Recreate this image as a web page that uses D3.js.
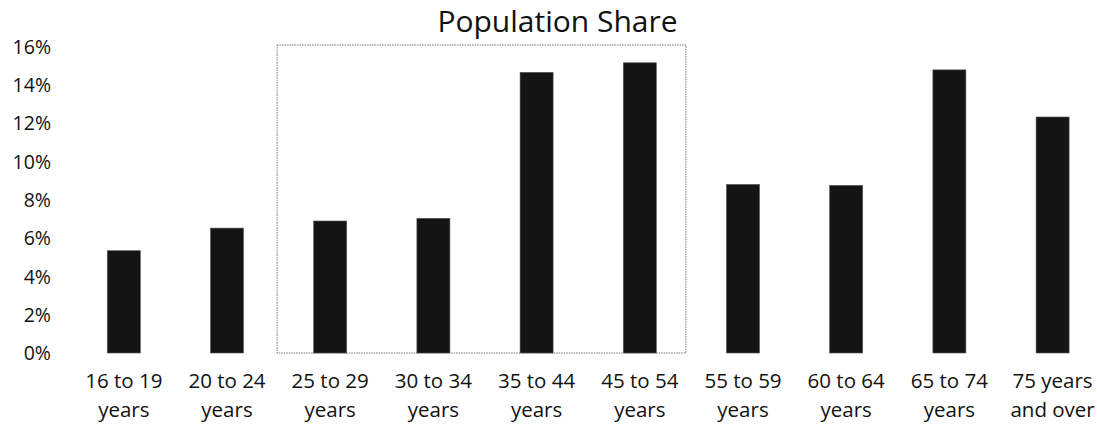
<!DOCTYPE html>
<html>
<head>
<meta charset="utf-8">
<script src="https://cdn.jsdelivr.net/npm/d3@7/dist/d3.min.js"></script>
<style>
  html, body { margin: 0; padding: 0; background: #fff; }
  svg { display: block; }
  text { font-family: "Open Sans", sans-serif; fill: #111; }
</style>
</head>
<body>
<svg id="chart" width="1097" height="425"></svg>
<script>
const title = "Population Share";
const categories = [
  ["16 to 19", "years"],
  ["20 to 24", "years"],
  ["25 to 29", "years"],
  ["30 to 34", "years"],
  ["35 to 44", "years"],
  ["45 to 54", "years"],
  ["55 to 59", "years"],
  ["60 to 64", "years"],
  ["65 to 74", "years"],
  ["75 years", "and over"]
];
const shares = [0.0534, 0.0652, 0.0689, 0.0703, 0.1465, 0.1515, 0.0880, 0.0875, 0.1478, 0.1232];
const yTicks = [0, 0.02, 0.04, 0.06, 0.08, 0.10, 0.12, 0.14, 0.16];
const highlightRange = ["25 to 29", "45 to 54"];

const svg = d3.select("#chart");
const keys = categories.map(c => c[0]);

const x = d3.scaleBand()
  .domain(keys)
  .range([72.2, 1104.2])
  .paddingInner(0.68)
  .paddingOuter(0.34);

const y = d3.scaleLinear()
  .domain([0, 0.16])
  .range([353, 46.5]);

// Title
svg.append("text")
  .attr("x", 557.5)
  .attr("y", 32)
  .attr("text-anchor", "middle")
  .style("font-size", "30px")
  .text(title);

// Y axis labels (no line)
const yAxis = d3.axisLeft(y)
  .tickValues(yTicks)
  .tickFormat(d3.format(".0%"))
  .tickSize(0)
  .tickPadding(0);
const yg = svg.append("g").attr("transform", "translate(51,0)").call(yAxis);
yg.select(".domain").remove();
yg.selectAll("text")
  .style("font-family", "'Open Sans', sans-serif")
  .style("font-size", "19.5px")
  .attr("fill", "#111")
  .attr("dy", "0.35em");

// Highlight box
const step = x.step();
const hx0 = x(highlightRange[0]) - (step - x.bandwidth()) / 2;
const hx1 = x(highlightRange[1]) + x.bandwidth() + (step - x.bandwidth()) / 2 - 4;
svg.append("rect")
  .attr("x", hx0 - 1.5)
  .attr("y", y(0.16) - 1.5)
  .attr("width", hx1 - hx0)
  .attr("height", y(0) - y(0.16) + 1.5)
  .attr("fill", "none")
  .attr("stroke", "#777")
  .attr("stroke-width", 1)
  .attr("stroke-dasharray", "1.5 1");

// Bars
svg.append("g").selectAll("rect")
  .data(shares)
  .join("rect")
  .attr("x", (d, i) => x(keys[i]))
  .attr("y", d => y(d))
  .attr("width", x.bandwidth())
  .attr("height", d => y(0) - y(d))
  .attr("fill", "#141414")
  .attr("stroke", "#555")
  .attr("stroke-width", 0.6);

// X labels
const xl = svg.append("g").selectAll("text")
  .data(categories)
  .join("text")
  .attr("x", d => x(d[0]) + x.bandwidth() / 2)
  .attr("y", 388)
  .attr("text-anchor", "middle")
  .style("font-size", "20.5px");
xl.append("tspan").attr("x", d => x(d[0]) + x.bandwidth() / 2).text(d => d[0]);
xl.append("tspan").attr("x", d => x(d[0]) + x.bandwidth() / 2).attr("dy", 28.5).text(d => d[1]);
</script>
</body>
</html>
